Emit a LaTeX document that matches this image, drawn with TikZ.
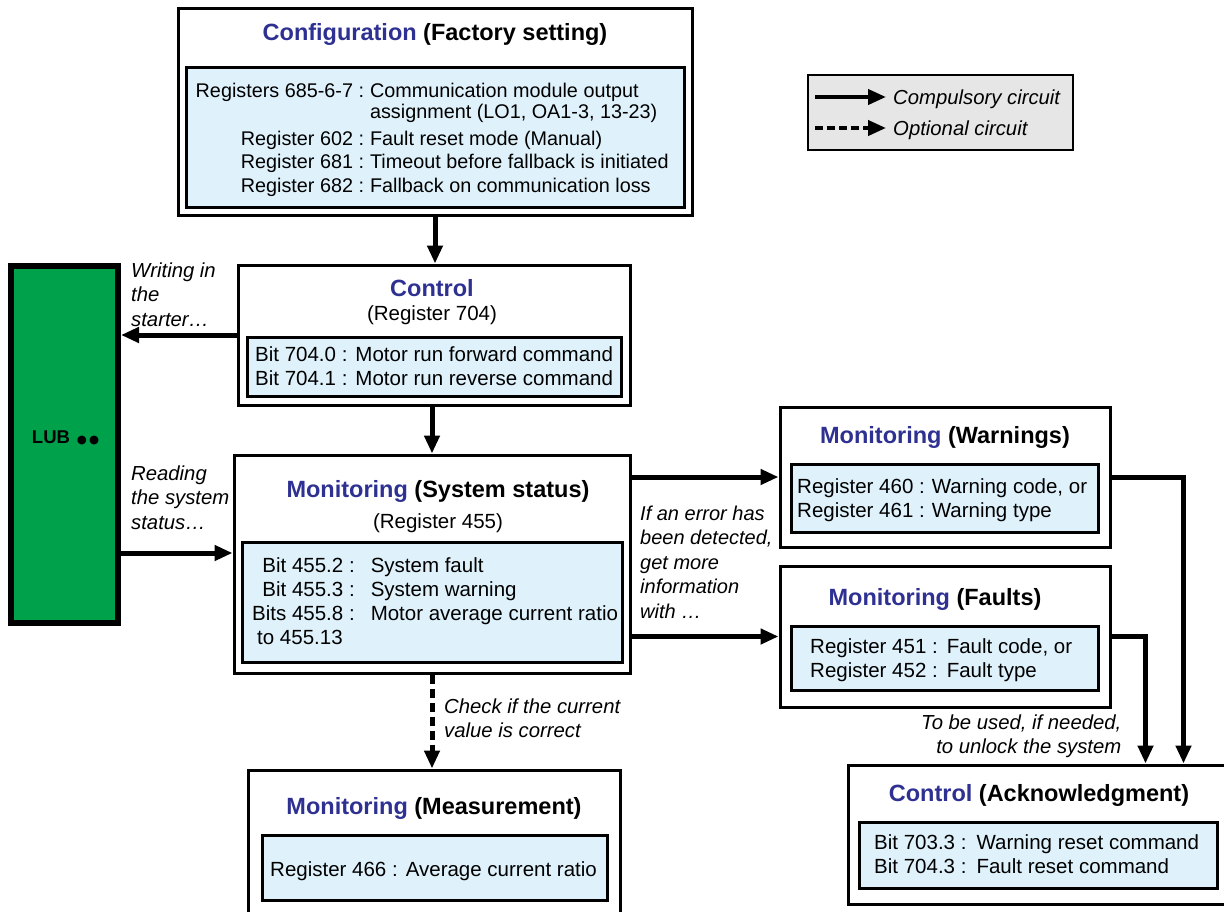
\documentclass[tikz,border=0pt]{standalone}
\usepackage{fontspec}
\setmainfont{Liberation Sans}
\newfontfamily\dejavu{DejaVu Sans}
\usetikzlibrary{arrows.meta,calc}
\definecolor{tblue}{HTML}{2E3192}
\definecolor{lblue}{HTML}{DFF2FB}
\definecolor{lgreen}{HTML}{00A14B}
\definecolor{lgray}{HTML}{E6E6E6}
\newcommand{\bodyf}{\fontsize{20.5}{24}\selectfont}
\newcommand{\cfgf}{\fontsize{19.8}{23.5}\selectfont}
\newcommand{\ttlf}{\fontsize{23.5}{27}\selectfont\bfseries}
\newcommand{\labf}{\fontsize{20.3}{24.5}\selectfont\itshape}
\newcommand{\blu}[1]{\textcolor{tblue}{#1}}
\begin{document}
\begin{tikzpicture}[x=1pt,y=-1pt,
  obox/.style={draw,line width=3pt,fill=white,inner sep=0pt},
  ibox/.style={draw,line width=3pt,fill=lblue,inner sep=0pt},
  arr/.style={line width=5pt,-{Triangle[length=18pt,width=15pt]}},
  txt/.style={inner sep=0pt,font=\bodyf,anchor=base west},
  ttl/.style={inner sep=0pt,font=\ttlf,anchor=base},
  lab/.style={inner sep=0pt,font=\labf,anchor=base west},
]
\useasboundingbox (0,0) rectangle (1224,911);
\clip (0,0) rectangle (1224,911);

% Legend
\node[draw,line width=1.2pt,fill=lgray,minimum width=265pt,minimum height=75pt,inner sep=0pt] (leg) at (940.5,112.5) {};
\node[lab] (lg1) at (893,104) {Compulsory circuit};
\node[lab] (lg2) at (893,135) {Optional circuit};
\draw[arr,line width=4pt] ($(lg1.base west)+(-78,-7)$) -- ($(lg1.base west)+(-7,-7)$);
\draw[arr,line width=4pt,dash pattern=on 8pt off 4pt] ($(lg2.base west)+(-78,-7)$) -- ($(lg2.base west)+(-7,-7)$);

% Configuration
\node[obox,minimum width=514pt,minimum height=207pt] (cfg) at (435,111.5) {};
\node[ibox,minimum width=498pt,minimum height=140pt] (cfgin) at (435,137) {};
\node[ttl] (cfgt) at (435,40) {\blu{Configuration} (Factory setting)};
\node[txt,font=\cfgf] (cfgtx) at (195.5,97) {\begin{tabular}[t]{@{}r@{\hspace{6pt}}l@{}}
Registers 685-6-7 : & Communication module output\\[-2pt]
 & assignment (LO1, OA1-3, 13-23)\\[3pt]
Register 602 : & Fault reset mode (Manual)\\
Register 681 : & Timeout before fallback is initiated\\
Register 682 : & Fallback on communication loss
\end{tabular}};

% Control
\node[obox,minimum width=392pt,minimum height=140pt] (ctl) at (434,335) {};
\node[ibox,minimum width=374pt,minimum height=59pt] (ctlin) at (434,366.5) {};
\node[ttl] (ctlt) at (432,296) {\blu{Control}};
\node[inner sep=0pt,font=\bodyf,anchor=base] (ctlr) at (432,320) {(Register 704)};
\node[txt] (ctltx) at (255,361) {\begin{tabular}[t]{@{}r@{\hspace{8pt}}l@{}}
Bit 704.0 : & Motor run forward command\\
Bit 704.1 : & Motor run reverse command
\end{tabular}};

% LUB
\node[draw,line width=6pt,fill=lgreen,minimum width=107pt,minimum height=357pt,inner sep=0pt] (lub) at (64.5,444.5) {};
\node[inner sep=0pt,font=\fontsize{18.5}{22}\selectfont\bfseries,anchor=base] (lubt) at (65.5,443.5) {LUB\kern7pt{\dejavu\fontsize{11.5}{12}\selectfont ●\kern2pt●}};

% System status
\node[obox,minimum width=396pt,minimum height=218pt] (sys) at (432,564) {};
\node[ibox,minimum width=380pt,minimum height=120pt] (sysin) at (432,602) {};
\node[ttl] (syst) at (438,497) {\blu{Monitoring} (System status)};
\node[inner sep=0pt,font=\bodyf,anchor=base] (sysr) at (438,528) {(Register 455)};
\node[txt] (systx) at (252,572) {\begin{tabular}[t]{@{}r@{\hspace{16pt}}l@{}}
Bit 455.2 : & System fault\\
Bit 455.3 : & System warning\\
Bits 455.8 : & Motor average current ratio\\
\multicolumn{1}{@{}l}{\hspace{5pt}to 455.13} &
\end{tabular}};

% Warnings
\node[obox,minimum width=330pt,minimum height=140pt] (wrn) at (945,477) {};
\node[ibox,minimum width=307pt,minimum height=68pt] (wrnin) at (944.5,498) {};
\node[ttl] (wrnt) at (945,443) {\blu{Monitoring} (Warnings)};
\node[txt] (wrntx) at (797,493) {\begin{tabular}[t]{@{}l@{\hspace{7pt}}l@{}}
Register 460 : & Warning code, or\\
Register 461 : & Warning type
\end{tabular}};

% Faults
\node[obox,minimum width=330pt,minimum height=141pt] (flt) at (945,636.5) {};
\node[ibox,minimum width=307pt,minimum height=64pt] (fltin) at (944.5,658) {};
\node[ttl] (fltt) at (935,605) {\blu{Monitoring} (Faults)};
\node[txt] (flttx) at (810,653) {\begin{tabular}[t]{@{}l@{\hspace{9pt}}l@{}}
Register 451 : & Fault code, or\\
Register 452 : & Fault type
\end{tabular}};

% Measurement
\node[obox,minimum width=372pt,minimum height=160pt] (mea) at (434,850) {};
\node[ibox,minimum width=345pt,minimum height=65pt] (meain) at (434.5,867.5) {};
\node[ttl] (meat) at (434,814) {\blu{Monitoring} (Measurement)};
\node[txt] (meatx) at (270,876) {Register 466 :\hspace{8pt}Average current ratio};

% Acknowledgment
\node[obox,minimum width=392pt,minimum height=139pt] (ack) at (1044,834.5) {};
\node[ibox,minimum width=358pt,minimum height=66pt] (ackin) at (1038,855) {};
\node[ttl] (ackt) at (1039,801) {\blu{Control} (Acknowledgment)};
\node[txt] (acktx) at (874,849) {\begin{tabular}[t]{@{}l@{\hspace{10pt}}l@{}}
Bit 703.3 : & Warning reset command\\
Bit 704.3 : & Fault reset command
\end{tabular}};

% Labels
\node[lab] (lw) at (131,277) {\begin{tabular}[t]{@{}l@{}}Writing in\\the\\starter…\end{tabular}};
\node[lab] (lr) at (131,480) {\begin{tabular}[t]{@{}l@{}}Reading\\the system\\status…\end{tabular}};
\node[lab,font=\fontsize{20}{24.5}\selectfont\itshape] (le) at (640,520) {\begin{tabular}[t]{@{}l@{}}If an error has\\been detected,\\get more\\information\\with …\end{tabular}};
\node[lab] (lc) at (444,713) {\begin{tabular}[t]{@{}l@{}}Check if the current\\value is correct\end{tabular}};
\node[lab] (lu) at (921,729) {\begin{tabular}[t]{@{}r@{}}To be used, if needed,\\to unlock the system\end{tabular}};

% Connectors
\coordinate (lubout) at ($(lub.east)+(0,108.5)$);
\draw[arr] (cfg.south) -- (cfg.south |- ctl.north);
\draw[arr] (ctl.south -| sys.north) -- (sys.north);
\draw[arr] (ctl.west) -- (ctl.west -| lub.east);
\draw[arr] (lubout) -- (lubout -| sys.west);
\draw[arr] (sys.east |- wrn.west) -- (wrn.west);
\draw[arr] (sys.east |- flt.west) -- (flt.west);
\draw[arr,dash pattern=on 9pt off 5pt] (sys.south) -- (sys.south |- mea.north);
\draw[arr] (wrn.east) -| ($(ack.north west)+(337,0)$);
\draw[arr] (flt.east) -| ($(ack.north west)+(299,0)$);
\end{tikzpicture}
\end{document}
